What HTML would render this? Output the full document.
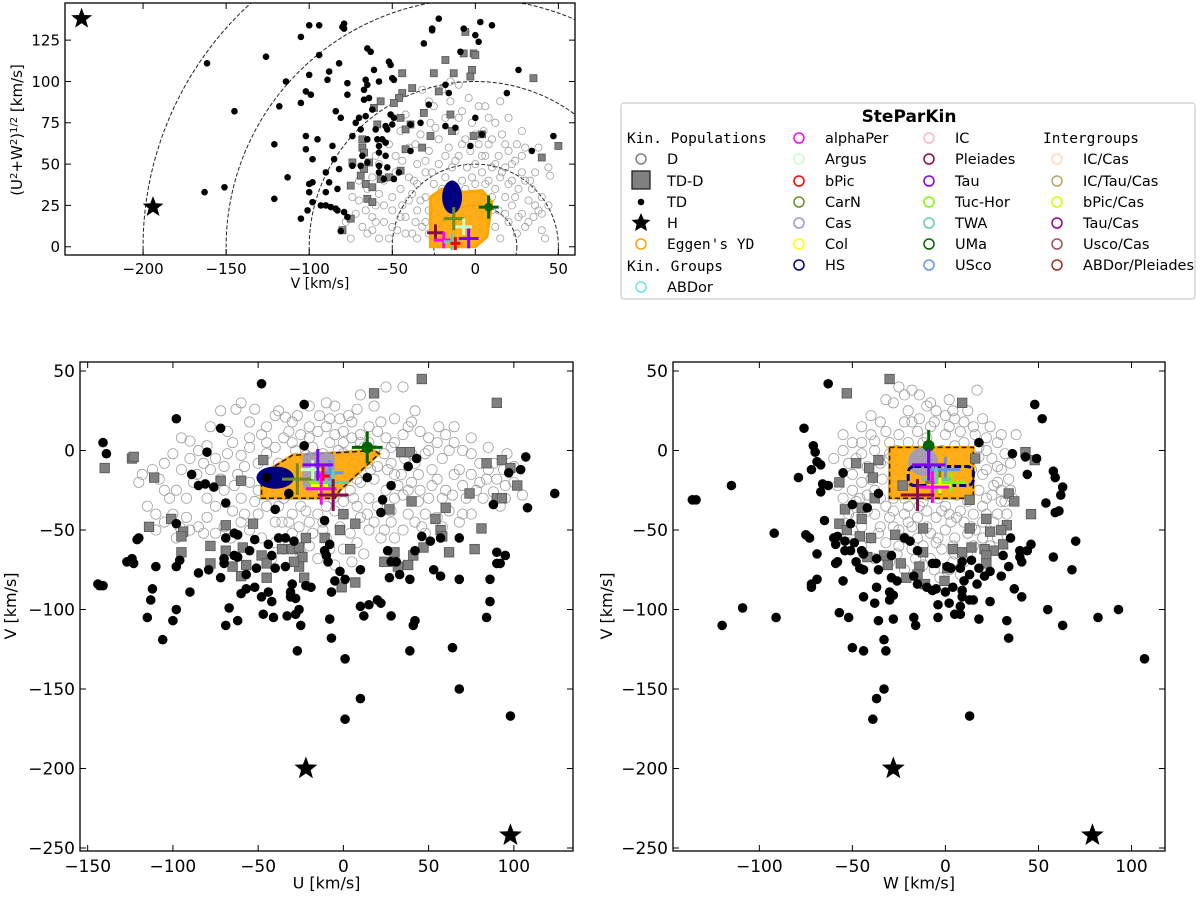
<!DOCTYPE html>
<html><head><meta charset="utf-8">
<style>
body{margin:0;background:#fff;}
svg{display:block;font-family:"DejaVu Sans","Liberation Sans",sans-serif;}
</style></head>
<body>
<svg id="fig" width="1200" height="898" viewBox="0 0 1200 898" xmlns="http://www.w3.org/2000/svg">
<defs>
<clipPath id="clipTop"><rect x="65" y="3" width="510" height="252"/></clipPath>
<clipPath id="clipBL"><rect x="80" y="362" width="493" height="489"/></clipPath>
<clipPath id="clipBR"><rect x="673" y="362" width="492" height="489"/></clipPath>
</defs>
</svg>
<script>
// ---------- DATA ----------
const topTD = [[-161.5,111],[-163,33],[-151,36],[-145,82],[-126,115],[-114,100],[-118,85],[-121,62],[-121,29],[-113,42],[-105,127],[-100,134],[-94,134],[-105,17],[-101,22],[-94,116],[-100,104],[-102,94],[-99,92],[-105,87],[-102,67],[-102,59],[-98,53],[-100,38],[-98,39],[-100,33],[-98,27],[-90,33],[-93,25],[-90,25],[-87,24],[-84,23],[-83,22],[-79,21],[-77,18],[-81,9.5],[-95,65],[-88,106],[-89,101],[-82,111],[-80,133],[-79,135],[-79,132],[-84,82],[-81,78],[-86,61],[-85,53],[-90,45],[-88,39],[-82,47],[-83,35],[-77,99],[-77,92],[-74,67],[-70,78],[-72,75],[-69,71],[-67,89],[-64,90],[-67,95],[-66,101],[-65,98],[-65,120],[-63,118],[-61,107],[-58,100],[-62,83],[-66,79],[-60,71],[-65,65],[-59,65],[-58,61],[-68,55],[-74,49],[-69,49],[-65,51],[-58,57],[-58,49],[-58,45],[-55,41],[-56,65],[-54,63],[-52,112],[-51,110],[-50,102],[-49,101],[-51,80],[-50,74],[-49,78],[-54,73],[-53,71],[-54,55],[-53,48],[-49,41],[-46,45],[-39,74],[-39,58],[-33,75],[-28,86],[-31,123],[-26,132],[-26,131],[-22,138],[-18,98],[-16,93],[-18,73],[-12,72],[-9,118],[-7,132],[0,128],[3,136],[10,134],[-3,61],[0,78],[4,68],[19,93],[26,107],[34,58],[47,67],[2,124]];
const topTDD = [[-6,130],[-7,117],[-1,117],[0,116],[-18,113],[-13,105],[-2,107],[-3,103],[-25,105],[-44,105],[-38,96],[-44,93],[-46,90],[-22,94],[35,102],[-31,81],[-15,80],[-45,78],[-39,74],[-42,71],[-59,74],[-57,88],[-61,84],[-49,87],[-27,67],[-14,70],[-1,67],[4,68],[-32,60],[-42,59],[-68,65],[-68,60],[-67,57],[-64,51],[-74,51],[-67,47],[-69,43],[-57,41],[-52,42],[-45,46],[40,54],[50,61],[-66,38],[-75,37],[-62,36],[-65,29],[-62,27],[-80,10],[-75,17]];
const topH = [[-237,138],[-194,24]];
const topD = [[-80,10],[-78,15],[-75,5],[-72,20],[-70,28],[-68,12],[-65,8],[-62,18],[-60,25],[-58,32],[-55,15],[-55,40],[-52,5],[-50,22],[-50,30],[-48,45],[-47,10],[-45,35],[-44,52],[-42,18],[-40,28],[-40,60],[-38,8],[-37,40],[-35,50],[-35,22],[-33,68],[-32,12],[-30,30],[-30,45],[-28,58],[-27,75],[-25,38],[-25,85],[-24,20],[-22,50],[-22,65],[-20,95],[-20,28],[-18,42],[-18,78],[-16,60],[-15,88],[-14,48],[-12,70],[-12,30],[-10,55],[-10,98],[-8,82],[-8,40],[-6,65],[-5,48],[-4,90],[-3,58],[-2,75],[0,38],[0,50],[2,85],[2,62],[4,45],[5,70],[5,30],[6,55],[8,78],[8,40],[10,48],[10,65],[12,35],[12,75],[14,55],[15,42],[16,68],[18,30],[18,48],[20,58],[20,15],[22,40],[22,25],[24,52],[25,8],[26,35],[28,20],[28,45],[30,12],[32,28],[33,40],[35,18],[36,45],[38,22],[40,10],[40,30],[42,5],[44,48],[45,43],[38,60],[30,60],[-58,50],[-62,42],[-65,35],[-45,70],[-52,62],[-15,22],[5,15],[-5,20],[15,5],[-35,5],[-20,5],[10,22],[0,25],[-30,15],[-40,42],[-8,30],[20,78],[25,62],[28,70],[-28,88],[-15,100],[-42,80],[-68,48],[-44,25],[-36,15],[-28,22],[-6,8],[2,10],[12,12],[18,20],
 [-70,40],[-62,10],[-58,5],[-50,12],[-45,18],[-42,8],[-38,32],[-35,38],[-33,28],[-30,52],[-28,8],[-26,45],[-22,12],[-20,35],[-18,55],[-16,15],[-14,38],[-12,52],[-10,20],[-8,62],[-6,35],[-4,12],[-2,42],[0,68],[2,20],[4,55],[6,38],[8,62],[10,30],[12,50],[14,22],[16,45],[18,62],[20,38],[22,50],[24,30],[26,18],[28,55],[30,40],[32,15],[34,35],[36,25],[40,20],[44,25],[-55,25],[-60,55],[-48,55],[-36,62],[-24,72],[-10,78],[6,85],[15,88],[-32,95],[-60,15],[-66,22],[-74,30]];
const topYD = [[-27,0],[-27,30],[-20,35],[-8,33],[4,34],[10,27],[7,6],[0,0]];
const topHS = [-14,30,6,10];
const topCross = [["UMa","#006400",8,24,6,7],["CarN","#6b8e23",-13,17,6,7],["Argus","#c8ffc8",-7,12,5,5],["Pleiades","#8b0a50",-24,8.5,5,5],["alphaPer","#ff00ff",-19,4,6,5],["TWA","#66cdaa",-14,3,5,5],["bPic","#ff0000",-12,2,3,4],["Tau","#7f00ff",-4,5,6,6]];
const topRadii = [25,50,100,150,200];

const blTD = [[-48,42],[-23,29],[-98,20],[-72,14],[-141,5],[-139,-2],[-23,3],[-80,-1],[43,-5],[107,-4],[38,-10],[104,-12],[97,-14],[-89,-15],[-45,-17],[14,-17],[-85,-22],[-81,-21],[-76,-23],[28,-22],[-32,-27],[124,-27],[23,-31],[-69,-33],[88,-34],[108,-36],[-40,-37],[22,-39],[-11,-44],[-98,-46],[46,-54],[-69,-55],[-64,-52],[-62,-53],[-52,-56],[-38,-55],[-34,-55],[-29,-57],[-8,-59],[51,-57],[57,-55],[68,-55],[-44,-59],[-121,-56],[-120,-55],[-55,-63],[-11,-63],[26,-63],[42,-63],[90,-64],[95,-66],[-42,-66],[-64,-66],[-62,-67],[-70,-68],[-10,-66],[-9,-70],[-127,-70],[-124,-68],[-123,-71],[-96,-69],[-98,-73],[-70,-71],[28,-70],[31,-70],[90,-71],[92,-71],[-110,-73],[-34,-73],[-40,-74],[-51,-74],[53,-75],[-85,-77],[-79,-75],[-72,-80],[-57,-78],[-2,-76],[10,-75],[27,-80],[33,-78],[39,-81],[57,-79],[68,-81],[86,-81],[1,-81],[-5,-82],[-144,-84],[-141,-85],[-143,-85],[-30,-84],[-22,-85],[-19,-86],[-57,-87],[-52,-86],[-112,-87],[-90,-89],[-60,-90],[-44,-89],[-48,-92],[-31,-89],[-7,-89],[-113,-94],[-42,-95],[-31,-92],[-28,-93],[86,-95],[10,-98],[15,-97],[20,-94],[22,-96],[-67,-99],[-98,-100],[-115,-105],[-100,-107],[-62,-107],[-47,-103],[-41,-105],[-33,-104],[-28,-103],[-26,-100],[-8,-106],[12,-104],[28,-104],[42,-107],[41,-110],[84,-105],[-69,-110],[-25,-110],[-106,-119],[-7,-118],[-27,-126],[39,-126],[64,-124],[1,-131],[68,-150],[10,-156],[1,-169],[98,-167]];
const blTDD = [[46,45],[18,36],[90,30],[-124,-5],[-123,-4],[-140,-11],[-111,-17],[-47,-6],[-72,-19],[-60,-19],[34,-1],[39,-1],[84,-8],[93,-6],[98,-11],[102,-22],[74,-27],[90,-30],[93,-30],[40,-32],[27,-37],[60,-36],[54,-43],[0,-40],[7,-46],[-2,-50],[-53,-46],[-69,-47],[-101,-43],[-94,-51],[-95,-54],[-114,-48],[-95,-64],[-78,-60],[-78,-71],[-69,-63],[-65,-73],[-59,-61],[-57,-72],[-60,-79],[-48,-66],[-45,-71],[-45,-80],[-36,-62],[-30,-62],[-26,-61],[-24,-67],[-26,-73],[-29,-70],[-22,-55],[-23,-80],[-11,-55],[4,-62],[7,-83],[-1,-86],[57,-50],[58,-54],[81,-49],[77,-62],[62,-64],[47,-61],[30,-64],[24,-70],[38,-72],[41,-66],[32,-73]];
const blH = [[-22,-200],[98,-242]];
const blD = [[-38,25],[-40,22],[-34,21],[-30,18],[-27,22],[-20,28],[-14,22],[-10,30],[-5,28],[3,22],[8,26],[10,35],[-60,30],[-63,26],[-72,25],[-52,26],[-48,10],[-55,8],[-65,5],[-80,3],[-90,6],[-95,8],[-85,0],[-90,-5],[-100,-2],[-105,-8],[-112,-12],[-118,-15],[-108,-18],[-95,-12],[-75,-5],[-70,-10],[-60,-3],[-55,2],[-45,5],[-40,2],[-35,8],[-30,5],[-25,10],[-20,8],[-15,12],[-10,15],[-5,10],[0,12],[5,8],[10,10],[15,15],[20,12],[25,8],[30,5],[35,10],[38,15],[45,12],[50,8],[55,5],[60,10],[65,5],[70,0],[75,-2],[80,-8],[85,-12],[90,-18],[95,-22],[100,-20],[105,-28],[92,-35],[88,-26],[80,-20],[75,-15],[70,-22],[65,-15],[60,-25],[55,-18],[50,-30],[45,-25],[40,-20],[35,-28],[30,-15],[25,-25],[20,-10],[15,-30],[10,-20],[5,-12],[0,-32],[-5,-38],[-10,-35],[-15,-40],[-20,-45],[-25,-35],[-30,-40],[-35,-30],[-40,-45],[-45,-35],[-50,-40],[-55,-50],[-60,-45],[-65,-38],[-70,-48],[-75,-52],[-80,-42],[-85,-48],[-90,-50],[-100,-40],[-105,-45],[-110,-50],[-60,-30],[-70,-25],[-80,-30],[-55,-20],[-50,-25],[-48,-55],[-40,-58],[-30,-52],[-20,-60],[-10,-55],[0,-62],[8,-58],[15,-50],[22,-55],[28,-45],[35,-50],[42,-45],[48,-52],[55,-42],[62,-38],[68,-45],[75,-40],[82,-30],[-15,-68],[-5,-72],[5,-70],[12,-65],[-25,-65],[-35,-62],[-42,-68],[20,-35],[28,-38],[10,-42],[-2,-48],[32,-22],[42,-8],[48,-2],[52,-12],[58,-5],[62,0],[28,2],[18,0],[-50,-8],[-62,-15],[-68,-2],[-78,-12],[-88,-20],[-98,-25],[-75,-35],[-92,-42],[-110,-40],[-115,-35],[25,40],[35,40],[40,18],[12,-5],[18,-18],[-8,5],[-18,2],[-28,0],[2,-5],[-3,0],[8,0],[0,5],[10,5],[15,5],[22,18],[5,18],[-2,20],[36,-5],[44,-15],[26,-12],[6,-30],[-4,-22],[14,-8],[-12,-50],[-36,-45],
 [-45,-2],[-38,-8],[-32,-12],[-28,-5],[-22,-3],[-18,-8],[-12,-2],[-6,-6],[0,-2],[6,-8],[12,2],[16,-12],[24,-2],[28,-8],[34,-15],[38,-25],[44,-32],[48,-40],[52,-22],[58,-30],[64,-28],[68,-12],[72,-30],[78,-25],[84,-18],[88,-8],[94,-12],[96,-2],[-58,-10],[-64,-22],[-72,-18],[-82,-8],[-86,-15],[-92,-30],[-102,-30],[-96,-48],[-82,-52],[-66,-55],[-58,-40],[-52,-32],[-44,-28],[-38,-35],[-32,-45],[-26,-48],[-18,-52],[-12,-45],[-6,-30],[0,-40],[4,-25],[8,-35],[14,-40],[18,-45],[24,-50],[30,-55],[38,-40],[46,-48],[58,-48],[4,-52],[-8,-62],[-22,-38],[-2,-15],[8,-18],[30,-30],[40,-2],[50,0],[56,15],[65,15],[75,8],[85,2],[-8,20],[-20,15],[-32,12],[-45,15],[-55,18],[-68,12],[-78,15],[18,28],[30,20],[42,25],[70,-40],[95,-30],[100,-10],[-105,-25],[-98,-55],[-120,-20]];
const blYD = [[-48,-15],[-30,-3],[18,0],[21,-2],[-2,-25],[-5,-30],[-48,-30]];
const blHS = [-40,-17,11,7];
const blCas = [-24,-1,-5,-25];
const blCross = [["UMa","#006400",14,2,9,10],["CarN","#6b8e23",-27,-18,9,10],["Argus","#c8ffc8",-18,-12,7,6],["USco","#6495ed",-8,-14,8,8],["TucHor","#7cfc00",-12,-20,8,6],["bPic","#ff0000",-12,-16,4,6],["Col","#ffff00",-14,-22,5,5],["TWA","#66cdaa",-6,-20,9,8],["alphaPer","#ff00ff",-13,-24,9,10],["Pleiades","#8b0a50",-6,-28,9,10],["Tau","#7f00ff",-15,-9,9,10]];

const brTD = [[-63,42],[48,29],[52,20],[-76,14],[-71,3],[-70,-1],[18,5],[36,-2],[43,-4],[49,-5],[-69,-7],[-67,-9],[-72,-12],[-55,-14],[58,-13],[59,-17],[44,-15],[-79,-17],[-115,-22],[-66,-21],[-63,-22],[63,-23],[-67,-26],[-36,-27],[62,-28],[-136,-31],[-134,-31],[-50,-34],[-42,-36],[54,-33],[61,-38],[59,-39],[-65,-44],[-51,-46],[-92,-52],[-75,-53],[-73,-55],[-60,-55],[-58,-54],[-59,-59],[-54,-57],[-49,-58],[-22,-55],[-19,-57],[35,-55],[70,-57],[46,-59],[-54,-63],[-51,-63],[-45,-63],[-15,-63],[40,-63],[44,-63],[-69,-65],[-29,-66],[-44,-65],[31,-66],[58,-67],[-59,-71],[-58,-70],[-48,-70],[-37,-68],[-7,-71],[-5,-71],[9,-70],[14,-69],[40,-67],[41,-70],[-46,-74],[-44,-75],[-36,-75],[1,-73],[3,-74],[8,-74],[18,-74],[24,-76],[34,-73],[68,-75],[-17,-79],[13,-78],[21,-79],[30,-79],[-69,-81],[-55,-82],[-29,-80],[-26,-82],[-72,-84],[-72,-86],[-15,-84],[10,-82],[17,-84],[-37,-86],[-10,-86],[-5,-87],[-7,-88],[4,-86],[9,-88],[37,-87],[-30,-89],[-28,-91],[0,-89],[9,-92],[13,-94],[15,-94],[41,-92],[-44,-92],[-30,-94],[-38,-96],[-4,-97],[2,-96],[24,-95],[-109,-99],[8,-98],[-57,-102],[55,-100],[93,-100],[-52,-105],[-36,-107],[-28,-106],[-17,-105],[-4,-105],[5,-103],[8,-103],[18,-106],[33,-107],[82,-105],[-91,-105],[-120,-110],[-16,-110],[63,-110],[-33,-119],[34,-118],[-50,-124],[-44,-126],[-32,-126],[107,-131],[-33,-150],[-37,-156],[-39,-169],[13,-167]];
const brTDD = [[-30,45],[-53,36],[9,30],[-48,-8],[-36,-6],[-41,-11],[-39,-17],[-57,-20],[-23,-22],[16,-5],[43,-1],[48,-6],[34,-27],[37,-32],[13,-31],[-38,-30],[-54,-37],[-45,-36],[-45,-43],[-57,-46],[-53,-50],[46,-40],[22,-43],[24,-51],[33,-47],[30,-50],[13,-49],[-12,-49],[-27,-53],[-40,-55],[-46,-54],[4,-62],[9,-64],[14,-61],[21,-62],[26,-63],[31,-59],[22,-66],[22,-71],[-12,-64],[-14,-73],[-15,-78],[-24,-71],[-31,-72],[-33,-66],[-42,-67],[-21,-80],[-11,-84],[-0.5,-82],[1,-74]];
const brH = [[-28,-200],[79,-242]];
const brD = [[-25,40],[-22,35],[-18,38],[-28,30],[-20,25],[-10,28],[-5,25],[0,22],[5,20],[12,25],[17,38],[20,20],[-35,18],[-40,10],[-45,5],[-50,5],[-55,0],[-48,-5],[-38,0],[-30,5],[-25,10],[-15,12],[-8,15],[0,10],[8,12],[15,15],[22,8],[28,5],[32,-2],[35,-8],[-50,-15],[-45,-20],[-42,-28],[-48,-32],[-38,-40],[-35,-48],[-30,-42],[-25,-50],[-20,-45],[-15,-55],[-10,-48],[-5,-58],[0,-50],[5,-55],[10,-45],[15,-40],[20,-35],[25,-28],[28,-20],[30,-12],[25,-5],[20,-15],[18,-25],[22,-40],[26,-45],[-2,-62],[-8,-68],[5,-65],[-12,-72],[2,-75],[-18,-62],[-25,-60],[-32,-58],[-40,-55],[-45,-48],[-52,-40],[-55,-30],[-58,-22],[-35,-30],[-32,-35],[-28,-38],[-20,-35],[-10,-38],[0,-35],[8,-38],[12,-32],[-5,-42],[3,-45],[-15,-42],[-40,-18],[-42,-10],[-35,-8],[-30,-2],[35,-25],[30,-32],[33,-40],[-45,-60],[-38,-68],[-30,-70],[-22,-75],[15,-60],[20,-55],[10,-70],[-8,-5],[-2,0],[5,3],[12,-8],[-50,-50],[-48,-42],[-3,-80],[8,-78],[-40,22],[-32,32],[-45,15],[38,10],[-55,10],[-60,-5],[-12,5],[-18,18],[2,15],[10,5],[18,2],[-28,-30],[-12,-32],[2,-40],[-22,-40],[16,-50],[-8,-52],
 [-30,-5],[-25,-12],[-18,-25],[-10,-28],[-4,-30],[6,-28],[10,-20],[14,-12],[18,-4],[22,-12],[26,-22],[30,-25],[32,-32],[28,-40],[20,-45],[12,-52],[4,-60],[-4,-55],[-12,-60],[-22,-55],[-28,-48],[-36,-52],[-42,-38],[-46,-30],[-50,-25],[-52,-8],[-45,-2],[-38,6],[-32,12],[-22,18],[-14,20],[-6,18],[4,25],[10,18],[16,10],[24,15],[30,10],[-28,-22],[-34,-18],[-38,-25],[-22,-30],[-14,-35],[-2,-38],[6,-42],[14,-48],[22,-30],[-18,-48],[-26,-65],[-16,-68],[-6,-75],[4,-70],[12,-65],[24,-60],[28,-55],[-44,-65],[-52,-58],[-8,30],[2,32],[-14,35],[34,-18],[36,-30],[-20,5],[-10,8],[-26,0],[22,0],[28,-10]];
const brYD = [[-30,2],[15,2],[15,-30],[-30,-30]];
const brHS = [-20,-10,15,-22];
const brCas = [-12,-7,8,9];
const brCross = [["UMa","#006400",-9,3,2,10],["CarN","#6b8e23",-3,-20,8,8],["USco","#6495ed",0,-12,8,8],["TucHor","#7cfc00",3,-20,8,6],["TWA","#66cdaa",-5,-18,8,8],["Col","#ffff00",-3,-22,6,5],["alphaPer","#ff00ff",-7,-23,9,10],["Pleiades","#8b0a50",-15,-28,9,10],["Tau","#7f00ff",-9,-9,9,10]];

const topXTicks = [-200,-150,-100,-50,0,50];
const topYTicks = [0,25,50,75,100,125];
const blXTicks = [-150,-100,-50,0,50,100];
const brXTicks = [-100,-50,0,50,100];
const bYTicks = [50,0,-50,-100,-150,-200,-250];

// ---------- DRAWING ----------
const NS='http://www.w3.org/2000/svg';
const svg=document.getElementById('fig');
function mk(tag,attrs,parent){const e=document.createElementNS(NS,tag);for(const k in attrs)e.setAttribute(k,attrs[k]);(parent||svg).appendChild(e);return e;}

const panels=[
 {id:'top',x0:65,x1:575,y0:3,y1:255,xmin:-247,xmax:60,ymin:-5,ymax:147.5,clip:'clipTop',r:3.3,sq:7,star:11,fs:15},
 {id:'bl',x0:80,x1:573,y0:362,y1:851,xmin:-154.5,xmax:134.7,ymin:-251.9,ymax:55.7,clip:'clipBL',r:4.8,sq:9.5,star:12,fs:17},
 {id:'br',x0:673,x1:1165,y0:362,y1:851,xmin:-146.4,xmax:118,ymin:-251.9,ymax:55.7,clip:'clipBR',r:4.8,sq:9.5,star:12,fs:17}
];
panels.forEach(p=>{p.sx=v=>p.x0+(v-p.xmin)/(p.xmax-p.xmin)*(p.x1-p.x0);p.sy=v=>p.y1-(v-p.ymin)/(p.ymax-p.ymin)*(p.y1-p.y0);});
const [PT,PL,PR]=panels;

function starPath(cx,cy,R){let d='';for(let i=0;i<10;i++){const a=-Math.PI/2+i*Math.PI/5;const r=i%2?R*0.42:R;d+=(i?'L':'M')+(cx+r*Math.cos(a)).toFixed(1)+','+(cy+r*Math.sin(a)).toFixed(1);}return d+'Z';}

function drawPanel(p,D,TDD,TD,H,yd,ydRect,hs,hsRect,cas,casRect,cross,xt,yt,xlabel){
 const g=mk('g',{'clip-path':'url(#'+p.clip+')'});
 
 
 if(p.id==='top'){
  topRadii.forEach(r=>{const c=mk('ellipse',{cx:p.sx(0),cy:p.sy(0),rx:p.sx(r)-p.sx(0),ry:p.sy(0)-p.sy(r),fill:'none',stroke:'#222','stroke-width':1,'stroke-dasharray':'4,2'},g);
   
   });
 }
 D.forEach(d=>{const c=mk('circle',{cx:p.sx(d[0]),cy:p.sy(d[1]),r:p.r+0.3,fill:'none',stroke:'#a0a0a0','stroke-width':0.8},g);
  
  });
 const pts=yd.map(q=>p.sx(q[0])+','+p.sy(q[1])).join(' ');
 const y1=mk('polygon',{points:pts,fill:'#ffa500','fill-opacity':0.9,stroke:'#ffa500','stroke-width':3},g);
 
 
 if(ydRect){const y2=mk('polygon',{points:pts,fill:'none',stroke:'#222','stroke-width':1.5,'stroke-dasharray':'5,3'},g);
  
  }
 if(cas){let e;
  if(casRect) e=mk('rect',{x:p.sx(cas[0]),y:p.sy(cas[1]),width:p.sx(cas[2])-p.sx(cas[0]),height:p.sy(cas[3])-p.sy(cas[1]),rx:6,fill:'#9999cc','fill-opacity':0.85},g);
  else e=mk('ellipse',{cx:p.sx(cas[0]),cy:p.sy(cas[1]),rx:p.sx(cas[2])-p.sx(0),ry:p.sy(0)-p.sy(cas[3]),fill:'#9999cc','fill-opacity':0.85},g);
  
  }
 let h;
 if(hsRect){h=mk('rect',{x:p.sx(hs[0]),y:p.sy(hs[1]),width:p.sx(hs[2])-p.sx(hs[0]),height:p.sy(hs[3])-p.sy(hs[1]),rx:6,fill:'none',stroke:'#000080','stroke-width':3,'stroke-dasharray':'7,3'},g);}
 else h=mk('ellipse',{cx:p.sx(hs[0]),cy:p.sy(hs[1]),rx:p.sx(hs[2])-p.sx(0),ry:p.sy(0)-p.sy(hs[3]),fill:'#000080'},g);
 
 
 TDD.forEach(d=>{const s=p.sq;const e=mk('rect',{x:p.sx(d[0])-s/2,y:p.sy(d[1])-s/2,width:s,height:s,fill:'#808080',stroke:'#555','stroke-width':0.8},g);
  
  });
 TD.forEach(d=>{const e=mk('circle',{cx:p.sx(d[0]),cy:p.sy(d[1]),r:p.r,fill:'#000'},g);
  
  });
 H.forEach(d=>{const e=mk('path',{d:starPath(p.sx(d[0]),p.sy(d[1]),p.star),fill:'#000'},g);
  
  });
 cross.forEach(c=>{const cx=p.sx(c[2]),cy=p.sy(c[3]);
  const e=mk('path',{d:'M'+p.sx(c[2]-c[4])+','+cy+'H'+p.sx(c[2]+c[4])+'M'+cx+','+p.sy(c[3]+c[5])+'V'+p.sy(c[3]-c[5]),stroke:c[1],'stroke-width':3,fill:'none'},g);
  
  
  if(c[0]==='UMa'){const d=mk('circle',{cx:cx,cy:cy,r:p.r+1,fill:c[1]},g);
   
   }});
 const f=mk('rect',{x:p.x0,y:p.y0,width:p.x1-p.x0,height:p.y1-p.y0,fill:'none',stroke:'#000','stroke-width':1.3});
 
 
 xt.forEach(v=>{const x=p.sx(v);
  const t=mk('path',{d:'M'+x+','+p.y1+'v-6M'+x+','+p.y0+'v6',stroke:'#000','stroke-width':1});
  
  
  const l=mk('text',{x:x,y:p.y1+p.fs+4,'text-anchor':'middle','font-size':p.fs});
  l.textContent=(v<0?'\u2212'+(-v):v);
  
  });
 yt.forEach(v=>{const y=p.sy(v);
  const t=mk('path',{d:'M'+p.x0+','+y+'h6M'+p.x1+','+y+'h-6',stroke:'#000','stroke-width':1});
  
  
  const l=mk('text',{x:p.x0-5,y:y+p.fs*0.36,'text-anchor':'end','font-size':p.fs});
  l.textContent=(v<0?'\u2212'+(-v):v);
  
  });
 const xl=mk('text',{x:(p.x0+p.x1)/2,y:p.y1+p.fs*2.2,'text-anchor':'middle','font-size':p.fs-1});
 xl.textContent=xlabel;
 
 
 return g;
}

drawPanel(PT,topD,topTDD,topTD,topH,topYD,false,topHS,false,null,false,topCross,topXTicks,topYTicks,'V [km/s]');
drawPanel(PL,blD,blTDD,blTD,blH,blYD,true,blHS,false,blCas,true,blCross,blXTicks,bYTicks,'U [km/s]');
drawPanel(PR,brD,brTDD,brTD,brH,brYD,true,brHS,true,brCas,false,brCross,brXTicks,bYTicks,'W [km/s]');

const yt1=mk('text',{x:0,y:0,'font-size':15,'text-anchor':'middle',transform:'translate(22,130) rotate(-90)'});
yt1.innerHTML='(U<tspan baseline-shift="super" font-size="10">2</tspan>+W<tspan baseline-shift="super" font-size="10">2</tspan>)<tspan baseline-shift="super" font-size="10">1/2</tspan> [km/s]';


[16,612].forEach(a=>{const t=mk('text',{x:0,y:0,'font-size':16,'text-anchor':'middle',transform:'translate('+a+',606) rotate(-90)'});
 t.textContent='V [km/s]';
 
 });
</script>

<svg style="position:absolute;left:0;top:0" width="1200" height="310">
 <rect x="621" y="103" width="574" height="196" rx="3" fill="#fff" stroke="#ccc" stroke-width="1.2"/>
 <text x="909" y="122" text-anchor="middle" font-size="17" font-weight="bold" font-family="DejaVu Sans, Liberation Sans, sans-serif">SteParKin</text>
 <g font-size="14.5" font-family="DejaVu Sans, Liberation Sans, sans-serif">
  <text x="627" y="143" font-family="DejaVu Sans Mono, Liberation Mono, monospace">Kin. Populations</text>
  <circle cx="641" cy="159" r="5" fill="none" stroke="#808080" stroke-width="1.5"/><text x="667" y="164">D</text>
  <rect x="632" y="171" width="18" height="18" fill="#808080" stroke="#222" stroke-width="1.3"/><text x="667" y="186">TD-D</text>
  <circle cx="641" cy="202" r="3.3" fill="#000"/><text x="667" y="207">TD</text>
  <path d="M641,213 L643.8,219.4 L650.5,220 L645.4,224.3 L647,231 L641,227.5 L635,231 L636.6,224.3 L631.5,220 L638.2,219.4Z" fill="#000"/><text x="667" y="228">H</text>
  <circle cx="641" cy="244" r="5" fill="none" stroke="#ffa500" stroke-width="1.5"/><text x="667" y="249" font-family="DejaVu Sans Mono, Liberation Mono, monospace">Eggen's YD</text>
  <text x="627" y="271" font-family="DejaVu Sans Mono, Liberation Mono, monospace">Kin. Groups</text>
  <circle cx="641" cy="287" r="5" fill="none" stroke="#6fe0f0" stroke-width="1.5"/><text x="667" y="292">ABDor</text>

  <circle cx="799" cy="138" r="5" fill="none" stroke="#ff00ff" stroke-width="1.5"/><text x="825" y="143">alphaPer</text>
  <circle cx="799" cy="159" r="5" fill="none" stroke="#c8ffc8" stroke-width="1.5"/><text x="825" y="164">Argus</text>
  <circle cx="799" cy="181" r="5" fill="none" stroke="#ff0000" stroke-width="1.5"/><text x="825" y="186">bPic</text>
  <circle cx="799" cy="202" r="5" fill="none" stroke="#6b8e23" stroke-width="1.5"/><text x="825" y="207">CarN</text>
  <circle cx="799" cy="223" r="5" fill="none" stroke="#9999cc" stroke-width="1.5"/><text x="825" y="228">Cas</text>
  <circle cx="799" cy="244" r="5" fill="none" stroke="#ffff00" stroke-width="1.5"/><text x="825" y="249">Col</text>
  <circle cx="799" cy="265" r="5" fill="none" stroke="#000080" stroke-width="1.5"/><text x="825" y="270">HS</text>

  <circle cx="929" cy="138" r="5" fill="none" stroke="#ffb6c1" stroke-width="1.5"/><text x="955" y="143">IC</text>
  <circle cx="929" cy="159" r="5" fill="none" stroke="#8b0a50" stroke-width="1.5"/><text x="955" y="164">Pleiades</text>
  <circle cx="929" cy="181" r="5" fill="none" stroke="#7f00ff" stroke-width="1.5"/><text x="955" y="186">Tau</text>
  <circle cx="929" cy="202" r="5" fill="none" stroke="#7cfc00" stroke-width="1.5"/><text x="955" y="207">Tuc-Hor</text>
  <circle cx="929" cy="223" r="5" fill="none" stroke="#66cdaa" stroke-width="1.5"/><text x="955" y="228">TWA</text>
  <circle cx="929" cy="244" r="5" fill="none" stroke="#006400" stroke-width="1.5"/><text x="955" y="249">UMa</text>
  <circle cx="929" cy="265" r="5" fill="none" stroke="#6495ed" stroke-width="1.5"/><text x="955" y="270">USco</text>

  <text x="1043" y="143" font-family="DejaVu Sans Mono, Liberation Mono, monospace">Intergroups</text>
  <circle cx="1057" cy="159" r="5" fill="none" stroke="#ffdab9" stroke-width="1.5"/><text x="1083" y="164">IC/Cas</text>
  <circle cx="1057" cy="181" r="5" fill="none" stroke="#b5a76b" stroke-width="1.5"/><text x="1083" y="186">IC/Tau/Cas</text>
  <circle cx="1057" cy="202" r="5" fill="none" stroke="#ccff00" stroke-width="1.5"/><text x="1083" y="207">bPic/Cas</text>
  <circle cx="1057" cy="223" r="5" fill="none" stroke="#990099" stroke-width="1.5"/><text x="1083" y="228">Tau/Cas</text>
  <circle cx="1057" cy="244" r="5" fill="none" stroke="#a0524d" stroke-width="1.5"/><text x="1083" y="249">Usco/Cas</text>
  <circle cx="1057" cy="265" r="5" fill="none" stroke="#a0301f" stroke-width="1.5"/><text x="1083" y="270">ABDor/Pleiades</text>
 </g>
</svg>
</body></html>
